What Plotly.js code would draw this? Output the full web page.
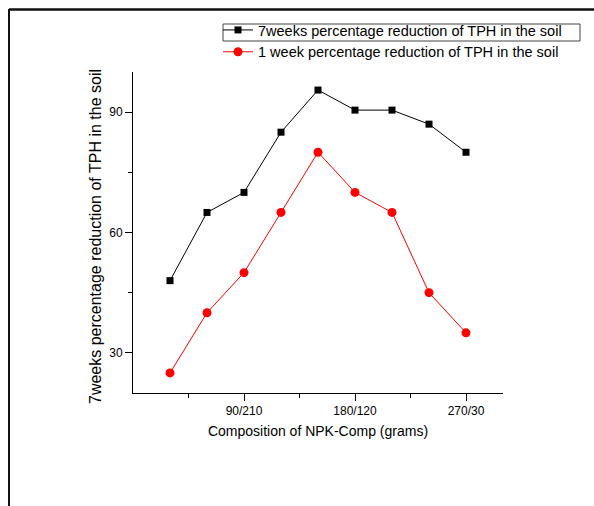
<!DOCTYPE html>
<html>
<head>
<meta charset="utf-8">
<script src="https://cdn.plot.ly/plotly-3.0.1.min.js"></script>
<style>html,body{margin:0;padding:0;background:#fff;} #chart{width:594px;height:506px;}</style>
</head>
<body>
<div id="chart"></div>
<script>
// Data
const xPositions = [30, 60, 90, 120, 150, 180, 210, 240, 270];
const sevenWeeks = [48, 65, 70, 85, 95.5, 90.5, 90.5, 87, 80];
const oneWeek = [25, 40, 50, 65, 80, 70, 65, 45, 35];
const xTickVals = [90, 180, 270];
const xTickText = ['90/210', '180/120', '270/30'];
const xMinorVals = [45, 135, 225];
const seriesNames = ['7weeks percentage reduction of TPH in the soil', '1 week percentage reduction of TPH in the soil'];
const yTitle = '7weeks percentage reduction of TPH in the soil';
const xTitle = 'Composition of NPK-Comp (grams)';

const FONT = 'Liberation Sans, Arial, sans-serif';

// plot area in pixels: x 133..503, y 72..393
const L = 133, R = 503, T = 72, B = 393;
const px = v => (v - L) / (R - L);
const py = v => (B - v) / (B - T);

const traces = [
  {x: xPositions, y: sevenWeeks, name: seriesNames[0], type: 'scatter', mode: 'lines+markers',
   line: {color: '#000000', width: 1}, marker: {symbol: 'square', size: 7, color: '#000000'}},
  {x: xPositions, y: oneWeek, name: seriesNames[1], type: 'scatter', mode: 'lines+markers',
   line: {color: '#ff0000', width: 1}, marker: {symbol: 'circle', size: 9, color: '#ff0000'}}
];

const layout = {
  width: 594, height: 506,
  margin: {l: L, r: 594 - R, t: T, b: 506 - B},
  paper_bgcolor: '#ffffff', plot_bgcolor: '#ffffff',
  font: {family: FONT, size: 12, color: '#000'},
  showlegend: true,
  legend: {x: px(218), y: py(14), xanchor: 'left', yanchor: 'top', bgcolor: 'rgba(0,0,0,0)',
           font: {family: FONT, size: 14.5, color: '#000'}, tracegroupgap: 0, itemwidth: 30},
  xaxis: {range: [0, 300], tickmode: 'array', tickvals: xTickVals, ticktext: xTickText,
          ticks: 'outside', ticklen: 7, tickwidth: 1, tickcolor: '#000',
          minor: {tickmode: 'array', tickvals: xMinorVals, ticks: 'outside', ticklen: 4, tickcolor: '#000', showgrid: false},
          showline: true, linecolor: '#000', linewidth: 1, showgrid: false, zeroline: false,
          tickfont: {family: FONT, size: 12, color: '#000'},
          title: {text: xTitle, font: {family: FONT, size: 14, color: '#000'}, standoff: 8}},
  yaxis: {range: [20, 100], tickmode: 'linear', tick0: 0, dtick: 30,
          ticks: 'outside', ticklen: 7, tickwidth: 1, tickcolor: '#000',
          minor: {dtick: 15, tick0: 0, ticks: 'outside', ticklen: 4, tickcolor: '#000', showgrid: false},
          showline: true, linecolor: '#000', linewidth: 1, showgrid: false, zeroline: false,
          tickfont: {family: FONT, size: 12, color: '#000'}},
  annotations: [
    {text: yTitle, xref: 'paper', yref: 'paper', x: px(96), y: py(237), xanchor: 'center', yanchor: 'middle',
     textangle: -90, showarrow: false, font: {family: FONT, size: 16, color: '#000'}}
  ],
  shapes: [
    // outer frame (left and top edges)
    {type: 'line', xref: 'paper', yref: 'paper', x0: px(9), x1: px(9), y0: py(9), y1: py(506), line: {color: '#111', width: 2}},
    {type: 'line', xref: 'paper', yref: 'paper', x0: px(9), x1: px(594), y0: py(9.5), y1: py(9.5), line: {color: '#111', width: 2.5}},
    // legend box around first entry
    {type: 'rect', xref: 'paper', yref: 'paper', x0: px(223), x1: px(580), y0: py(24), y1: py(41), line: {color: '#444', width: 1}}
  ]
};

Plotly.newPlot('chart', traces, layout, {displayModeBar: false, staticPlot: true});
</script>
</body>
</html>
